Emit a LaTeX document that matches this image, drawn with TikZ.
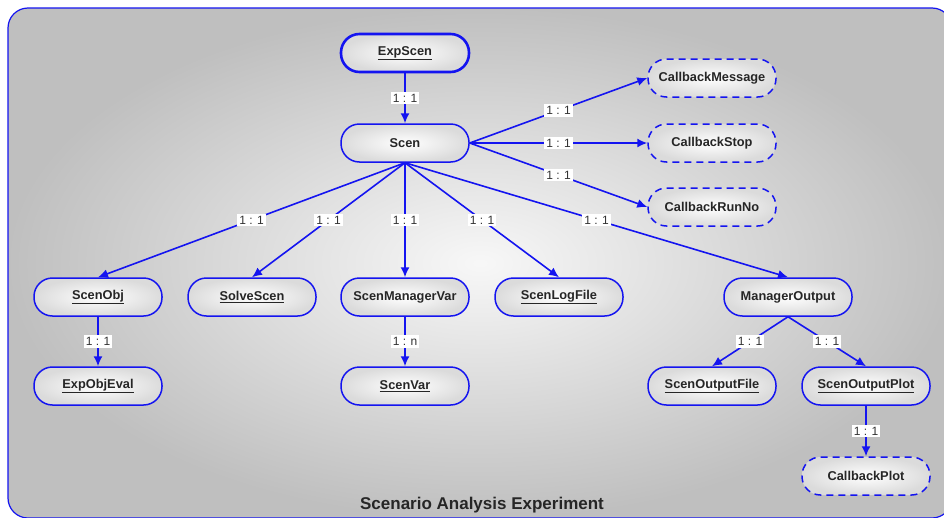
\documentclass[tikz,border=0pt]{standalone}
\usepackage{fontspec}
\setmainfont{Liberation Sans}
\usepackage{xcolor}
\usepackage{tikz}
\usetikzlibrary{shapes,arrows,positioning,calc,arrows.meta}

\definecolor{linkblue}{RGB}{20,20,240}

\begin{document}
\begin{tikzpicture}[
      x=1pt, y=-1pt,
      entity/.style={rectangle, draw=linkblue, line width=1.5pt, rounded corners=18.5pt, minimum width=128pt, minimum height=38pt, inner sep=2pt, font=\fontsize{12.8}{14}\selectfont\bfseries, text=black!85, align=center, shading=radial, inner color=white, outer color=gray!28},
      callback/.style={entity, dash pattern=on 7pt off 5pt},
      link/.style={-{Latex[length=10pt,width=9pt]}, draw=linkblue, line width=1.6pt},
      tag/.style={fill=white, inner sep=2pt, font=\fontsize{12}{13}\selectfont, text=black!80},
    ]
    \useasboundingbox (0,0) rectangle (944,517);
    % frame
    \fill [white] (0,0) rectangle (944,517);
    \shade [draw=linkblue, line width=1.2pt, rounded corners=20pt, inner color=gray!6, outer color=gray!50] (8,8) rectangle (952,518);

    \node [entity, line width=2.6pt] (expscen) at (405,53) {\underline{ExpScen}};
    \node [entity] (scen) at (405,143) {Scen};
    \node [callback] (cbmessage) at (712,78) {CallbackMessage};
    \node [callback] (cbstop) at (712,143) {CallbackStop};
    \node [callback] (cbrunno) at (712,207) {CallbackRunNo};
    \node [entity] (scenobj) at (98,297) {\underline{ScenObj}};
    \node [entity] (solvescen) at (252,297) {\underline{SolveScen}};
    \node [entity] (scenmanagervar) at (405,297) {ScenManagerVar};
    \node [entity] (scenlogfile) at (559,297) {\underline{ScenLogFile}};
    \node [entity] (manageroutput) at (788,297) {ManagerOutput};
    \node [entity] (expobjeval) at (98,386) {\underline{ExpObjEval}};
    \node [entity] (scenvar) at (405,386) {\underline{ScenVar}};
    \node [entity] (scenoutputfile) at (712,386) {\underline{ScenOutputFile}};
    \node [entity] (scenoutputplot) at (866,386) {\underline{ScenOutputPlot}};
    \node [callback] (cbplot) at (866,476) {CallbackPlot};
    \node [font=\fontsize{17}{19}\selectfont\bfseries, text=black!85] (title) at (482,505) {Scenario Analysis Experiment};

    \draw [link] (expscen) -- (scen) node [midway, tag] {1 : 1};
    \draw [link] (scen.east) -- (cbmessage.west) node [midway, tag] {1 : 1};
    \draw [link] (scen.east) -- (cbstop.west) node [midway, tag] {1 : 1};
    \draw [link] (scen.east) -- (cbrunno.west) node [midway, tag] {1 : 1};
    \draw [link] (scen.south) -- (scenobj.north) node [midway, tag] {1 : 1};
    \draw [link] (scen.south) -- (solvescen.north) node [midway, tag] {1 : 1};
    \draw [link] (scen.south) -- (scenmanagervar.north) node [midway, tag] {1 : 1};
    \draw [link] (scen.south) -- (scenlogfile.north) node [midway, tag] {1 : 1};
    \draw [link] (scen.south) -- (manageroutput.north) node [midway, tag] {1 : 1};
    \draw [link] (scenobj) -- (expobjeval) node [midway, tag] {1 : 1};
    \draw [link] (scenmanagervar) -- (scenvar) node [midway, tag] {1 : n};
    \draw [link] (manageroutput.south) -- (scenoutputfile.north) node [midway, tag] {1 : 1};
    \draw [link] (manageroutput.south) -- (scenoutputplot.north) node [midway, tag] {1 : 1};
    \draw [link] (scenoutputplot) -- (cbplot) node [midway, tag] {1 : 1};
  \end{tikzpicture}
\end{document}
